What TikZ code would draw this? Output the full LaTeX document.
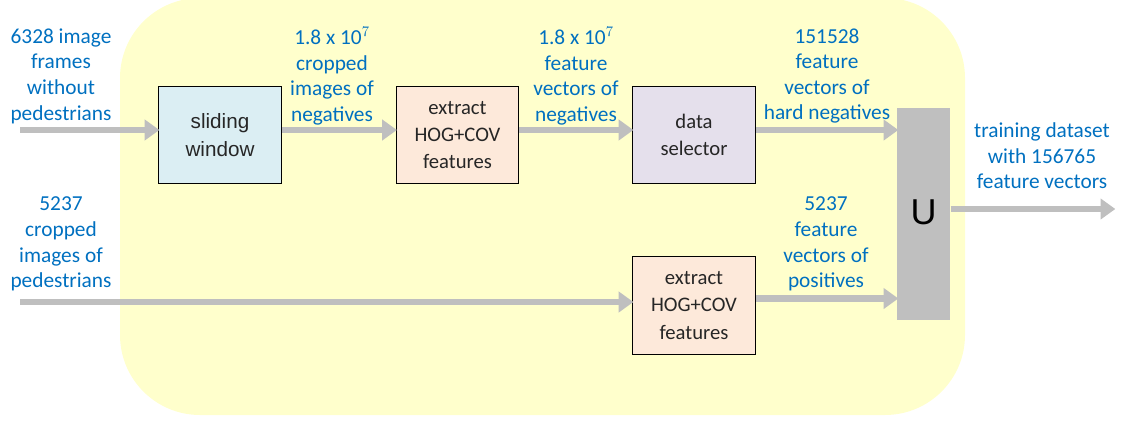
\documentclass[tikz,border=0pt]{standalone}
\usepackage{fontspec}
\setmainfont{Carlito}
\newfontfamily\arialf{Liberation Sans}
\usetikzlibrary{arrows.meta,calc}
\definecolor{lblue}{HTML}{0070C0}
\definecolor{arrgray}{HTML}{BFBFBF}
\definecolor{bgyel}{HTML}{FFFFCC}
\definecolor{swfill}{HTML}{DBEEF3}
\definecolor{exfill}{HTML}{FDE9DA}
\definecolor{dsfill}{HTML}{E5E0EC}
\tikzset{
  arr/.style={draw=arrgray,line width=5pt,-{Triangle[length=11pt,width=15pt]},shorten >=-1pt},
  lbl/.style={text=lblue,align=center,font=\fontsize{16}{19.2}\selectfont,inner sep=0pt},
  procbox/.style={draw=black,line width=0.9pt,minimum width=92pt,minimum height=73pt,align=center,inner sep=0pt,text=black!85,font=\fontsize{15.5}{20.5}\selectfont},
}
\begin{document}
\begin{tikzpicture}[x=0.75pt,y=-0.75pt]
\useasboundingbox (0,0) rectangle (1127,421);
\fill[bgyel,rounded corners=60pt] (120,-2) rectangle (965,415);
% boxes
\node[procbox,fill=swfill,font=\arialf\fontsize{15.5}{20.5}\selectfont] (sw) at (220,135) {sliding\\window};
\node[procbox,fill=exfill] (ex1) at (457.5,135) {extract\\HOG+COV\\features};
\node[procbox,fill=dsfill] (ds) at (694,135) {data\\selector};
\node[procbox,fill=exfill] (ex2) at (694,305.5) {extract\\HOG+COV\\features};
\node[fill=arrgray,minimum width=39.75pt,minimum height=159pt,inner sep=0pt,anchor=north west] (U) at (897,108) {};
\node[font=\arialf\fontsize{27}{30}\selectfont,text=black] (Ulbl) at (923.5,212) {U};
% coordinates
\coordinate (in1) at (20,130);
\coordinate (in2) at (20,302);
\coordinate (out) at (1114,209);
\coordinate (a2) at ($(sw.east)+(0,-5)$);
\coordinate (a3) at ($(ex1.east)+(0,-5)$);
\coordinate (a4) at ($(ds.east)+(0,-5)$);
\coordinate (a6) at ($(ex2.east)+(0,-7)$);
% arrows
\draw[arr] (in1) -- (in1 -| sw.west);
\draw[arr] (a2) -- (a2 -| ex1.west);
\draw[arr] (a3) -- (a3 -| ds.west);
\draw[arr] (a4) -- (a4 -| U.west);
\draw[arr] (in2) -- (in2 -| ex2.west);
\draw[arr] (a6) -- (a6 -| U.west);
\draw[arr] (U.east |- out) -- (out);
% labels
\node[lbl] (l1) at (61,76) {6328 image\\frames\\without\\pedestrians};
\node[lbl] (l2) at (332,76) {1.8 x 10$^{\scriptstyle 7}$\\cropped\\images of\\negatives};
\node[lbl] (l3) at (576,76) {1.8 x 10$^{\scriptstyle 7}$\\feature\\vectors of\\negatives};
\node[lbl] (l4) at (827,76) {151528\\feature\\vectors of\\hard negatives};
\node[lbl] (l5) at (1042,156) {training dataset\\with 156765\\feature vectors};
\node[lbl] (l6) at (61,244) {5237\\cropped\\images of\\pedestrians};
\node[lbl] (l7) at (826,244) {5237\\feature\\vectors of\\positives};
\end{tikzpicture}
\end{document}
